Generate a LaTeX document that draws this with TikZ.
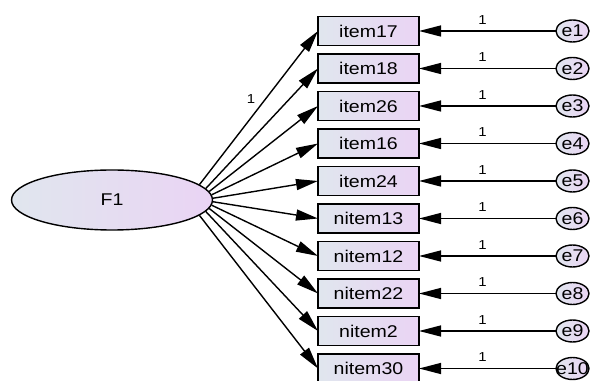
\documentclass[tikz,border=0pt]{standalone}
\usepackage{fontspec}
\setmainfont[FakeStretch=1.15]{Liberation Sans}
\usetikzlibrary{positioning,shapes.geometric,arrows.meta}

\definecolor{shadeleft}{RGB}{224,230,238}
\definecolor{shaderight}{RGB}{234,212,244}
% error names may overflow their circle
\newcommand{\ename}[1]{\makebox[0pt]{#1}}

\begin{document}
\begin{tikzpicture}[x=1pt,y=1pt,>={Triangle[length=22pt,width=11pt]},
		line width=1.4pt,
		latent/.style={ellipse,draw,minimum width=201pt,minimum height=60pt,
			left color=shadeleft,right color=shaderight,inner sep=0pt,
			font=\fontsize{17}{19}\selectfont},
		obsbox/.style={rectangle,draw,minimum width=101pt,minimum height=29pt,
			left color=shadeleft,right color=shaderight,inner sep=0pt,
			outer sep=0pt,font=\fontsize{17}{19}\selectfont},
		errcirc/.style={ellipse,draw,minimum width=33pt,minimum height=22pt,
			left color=shadeleft,right color=shaderight,inner sep=0pt,
			outer sep=0pt,font=\fontsize{17}{19}\selectfont},
		wt/.style={font=\fontsize{13}{14}\selectfont,inner sep=1pt}]
		\useasboundingbox (0,0) rectangle (591,380);
		% create the nodes
		\node (F1) [latent] at (112,180) {F1};
		\node (item17) [obsbox] at (368.5,349) {item17};
		\node (item18) [obsbox,below=8.5pt of item17] {item18};
		\node (item26) [obsbox,below=8.5pt of item18] {item26};
		\node (item16) [obsbox,below=8.5pt of item26] {item16};
		\node (item24) [obsbox,below=8.5pt of item16] {item24};
		\node (nitem13) [obsbox,below=8.5pt of item24] {nitem13};
		\node (nitem12) [obsbox,below=8.5pt of nitem13] {nitem12};
		\node (nitem22) [obsbox,below=8.5pt of nitem12] {nitem22};
		\node (nitem2) [obsbox,below=8.5pt of nitem22] {nitem2};
		\node (nitem30) [obsbox,below=8.5pt of nitem2] {nitem30};
		\node (e1) [errcirc,right=137pt of item17] {\ename{e1}};
		\node (e2) [errcirc,right=137pt of item18] {\ename{e2}};
		\node (e3) [errcirc,right=137pt of item26] {\ename{e3}};
		\node (e4) [errcirc,right=137pt of item16] {\ename{e4}};
		\node (e5) [errcirc,right=137pt of item24] {\ename{e5}};
		\node (e6) [errcirc,right=137pt of nitem13] {\ename{e6}};
		\node (e7) [errcirc,right=137pt of nitem12] {\ename{e7}};
		\node (e8) [errcirc,right=137pt of nitem22] {\ename{e8}};
		\node (e9) [errcirc,right=137pt of nitem2] {\ename{e9}};
		\node (e10) [errcirc,right=137pt of nitem30] {\ename{e10}};

		% connect the nodes
		\draw[->] (F1.10) -- node[wt,pos=0.56,left=9pt] {1} (item17.west);
		\draw[->] (F1.7.5) -- (item18.west);
		\draw[->] (F1.5) -- (item26.west);
		\draw[->] (F1.3) -- (item16.west);
		\draw[->] (F1.1) -- (item24.west);
		\draw[->] (F1.-1) -- (nitem13.west);
		\draw[->] (F1.-3) -- (nitem12.west);
		\draw[->] (F1.-5) -- (nitem22.west);
		\draw[->] (F1.-7.5) -- (nitem2.west);
		\draw[->] (F1.-10) -- (nitem30.west);
		\draw[->] (e1) -- node[wt,pos=0.536,above=5pt] {1} (item17);
		\draw[->] (e2) -- node[wt,pos=0.536,above=5pt] {1} (item18);
		\draw[->] (e3) -- node[wt,pos=0.536,above=5pt] {1} (item26);
		\draw[->] (e4) -- node[wt,pos=0.536,above=5pt] {1} (item16);
		\draw[->] (e5) -- node[wt,pos=0.536,above=5pt] {1} (item24);
		\draw[->] (e6) -- node[wt,pos=0.536,above=5pt] {1} (nitem13);
		\draw[->] (e7) -- node[wt,pos=0.536,above=5pt] {1} (nitem12);
		\draw[->] (e8) -- node[wt,pos=0.536,above=5pt] {1} (nitem22);
		\draw[->] (e9) -- node[wt,pos=0.536,above=5pt] {1} (nitem2);
		\draw[->] (e10) -- node[wt,pos=0.536,above=5pt] {1} (nitem30);

	\end{tikzpicture}
\end{document}
